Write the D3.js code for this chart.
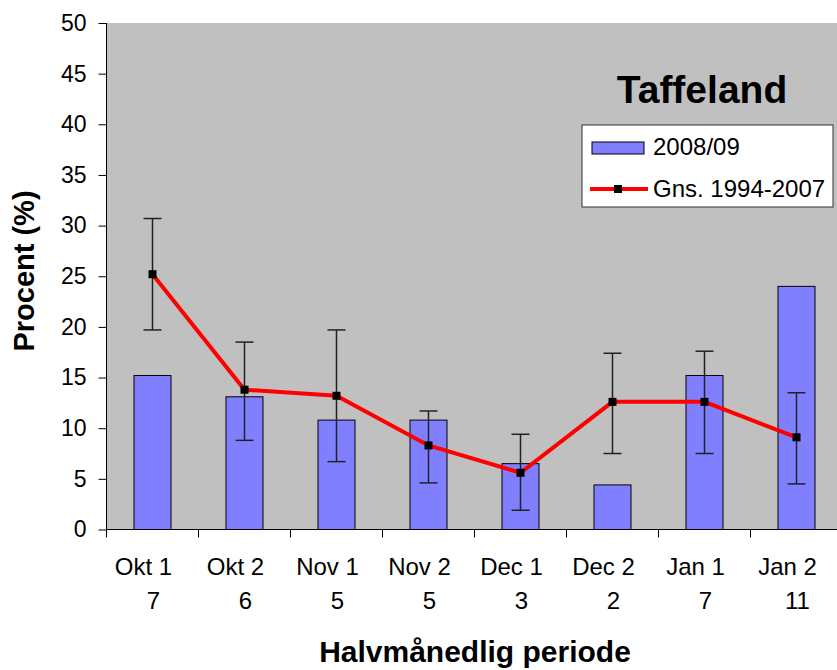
<!DOCTYPE html>
<html>
<head>
<meta charset="utf-8">
<script src="https://cdn.jsdelivr.net/npm/d3@7"></script>
<style>
  body { margin: 0; background: #fff; }
  svg { display: block; font-family: "Liberation Sans", Arial, sans-serif; }
</style>
</head>
<body>
<svg id="viz"></svg>
<script>
// ----------------------- DATA
const periods = ['Okt 1', 'Okt 2', 'Nov 1', 'Nov 2', 'Dec 1', 'Dec 2', 'Jan 1', 'Jan 2'];
const counts = ['7', '6', '5', '5', '3', '2', '7', '11'];
const season = [15.2, 13.1, 10.8, 10.8, 6.5, 4.4, 15.2, 24.0];        // 2008/09
const average = [25.2, 13.8, 13.2, 8.3, 5.6, 12.6, 12.6, 9.1];        // Gns. 1994-2007
const errHigh = [30.7, 18.5, 19.7, 11.7, 9.4, 17.4, 17.6, 13.5];
const errLow = [19.7, 8.8, 6.7, 4.6, 1.9, 7.5, 7.5, 4.5];
const yTicks = [0, 5, 10, 15, 20, 25, 30, 35, 40, 45, 50];

// ----------------------- SETTINGS
const W = 837, H = 670;
const margin = { top: 23, left: 106.5 };
const width = 736, height = 506.5;

const svg = d3.select('#viz').attr('width', W).attr('height', H);

const x = d3.scaleBand().domain(periods).range([0, width]);
const y = d3.scaleLinear().domain([0, 50]).range([height, 0]);

const chart = svg.append('g')
  .attr('transform', `translate(${margin.left}, ${margin.top})`);

// plot background
chart.append('rect')
  .attr('width', width).attr('height', height)
  .attr('fill', '#c0c0c0');

// ----------------------- AXES
const yAxis = chart.append('g')
  .call(d3.axisLeft(y).tickValues(yTicks).tickSize(8).tickPadding(12));
yAxis.select('.domain').attr('d', `M0,0V${height}`).attr('stroke', '#000');
yAxis.selectAll('.tick line').attr('stroke', '#000');
yAxis.selectAll('.tick text').attr('font-size', 23).attr('fill', '#000');

const xAxis = chart.append('g')
  .attr('transform', `translate(0, ${height})`);
xAxis.append('line')
  .attr('x1', 0).attr('x2', width)
  .attr('stroke', '#000');
// ticks sit on band boundaries, excel style
xAxis.selectAll('.xtick')
  .data(periods.concat(['end']))
  .enter().append('line')
  .attr('x1', (d, i) => i * x.step())
  .attr('x2', (d, i) => i * x.step())
  .attr('y1', 0).attr('y2', 8)
  .attr('stroke', '#000');

const labels = xAxis.selectAll('.xlabel')
  .data(periods)
  .enter().append('text')
  .attr('font-size', 24)
  .attr('text-anchor', 'middle');
labels.append('tspan')
  .attr('x', d => x(d) + x.bandwidth() / 2 - 9)
  .attr('y', 45)
  .text(d => d);
labels.append('tspan')
  .attr('x', d => x(d) + x.bandwidth() / 2 + 1)
  .attr('y', 79)
  .text((d, i) => counts[i]);

// ----------------------- BARS
const barW = 37;
chart.selectAll('.bar')
  .data(season)
  .enter().append('rect')
  .attr('x', (d, i) => x(periods[i]) + x.bandwidth() / 2 - barW / 2)
  .attr('y', d => y(d))
  .attr('width', barW)
  .attr('height', d => height - y(d))
  .attr('fill', '#8080ff')
  .attr('stroke', '#000')
  .attr('stroke-width', 1);

// ----------------------- ERROR BARS
const cx = i => x(periods[i]) + x.bandwidth() / 2;
const err = chart.selectAll('.err')
  .data(errHigh)
  .enter().append('g')
  .attr('stroke', '#222')
  .attr('stroke-width', 1.5);
err.append('line')
  .attr('x1', (d, i) => cx(i)).attr('x2', (d, i) => cx(i))
  .attr('y1', d => y(d)).attr('y2', (d, i) => y(errLow[i]));
err.append('line')
  .attr('x1', (d, i) => cx(i) - 9).attr('x2', (d, i) => cx(i) + 9)
  .attr('y1', d => y(d)).attr('y2', d => y(d));
err.append('line')
  .attr('x1', (d, i) => cx(i) - 9).attr('x2', (d, i) => cx(i) + 9)
  .attr('y1', (d, i) => y(errLow[i])).attr('y2', (d, i) => y(errLow[i]));

// ----------------------- LINE
const line = d3.line()
  .x((d, i) => cx(i))
  .y(d => y(d));
chart.append('path')
  .datum(average)
  .attr('d', line)
  .attr('fill', 'none')
  .attr('stroke', '#ff0000')
  .attr('stroke-width', 4);
chart.selectAll('.pt')
  .data(average)
  .enter().append('rect')
  .attr('x', (d, i) => cx(i) - 4)
  .attr('y', d => y(d) - 4)
  .attr('width', 8).attr('height', 8)
  .attr('fill', '#000');

// ----------------------- TITLES
svg.append('text')
  .attr('x', 702).attr('y', 103)
  .attr('text-anchor', 'middle')
  .attr('font-size', 39).attr('font-weight', 'bold')
  .text('Taffeland');

svg.append('text')
  .attr('transform', 'translate(34, 271) rotate(-90)')
  .attr('text-anchor', 'middle')
  .attr('font-size', 29).attr('font-weight', 'bold')
  .text('Procent (%)');

svg.append('text')
  .attr('x', 475).attr('y', 662)
  .attr('text-anchor', 'middle')
  .attr('font-size', 30).attr('font-weight', 'bold')
  .text('Halvmånedlig periode');

// ----------------------- LEGEND
const legend = svg.append('g');
legend.append('rect')
  .attr('x', 582).attr('y', 125).attr('width', 251).attr('height', 82)
  .attr('fill', '#fff').attr('stroke', '#333').attr('stroke-width', 1);
legend.append('rect')
  .attr('x', 592).attr('y', 142).attr('width', 52).attr('height', 12)
  .attr('fill', '#8080ff').attr('stroke', '#000');
legend.append('text')
  .attr('x', 653).attr('y', 155).attr('font-size', 24)
  .text('2008/09');
legend.append('line')
  .attr('x1', 590).attr('x2', 648).attr('y1', 189).attr('y2', 189)
  .attr('stroke', '#ff0000').attr('stroke-width', 4);
legend.append('rect')
  .attr('x', 614).attr('y', 185).attr('width', 8).attr('height', 8)
  .attr('fill', '#000');
legend.append('text')
  .attr('x', 653).attr('y', 197).attr('font-size', 24)
  .text('Gns. 1994-2007');
</script>
</body>
</html>
